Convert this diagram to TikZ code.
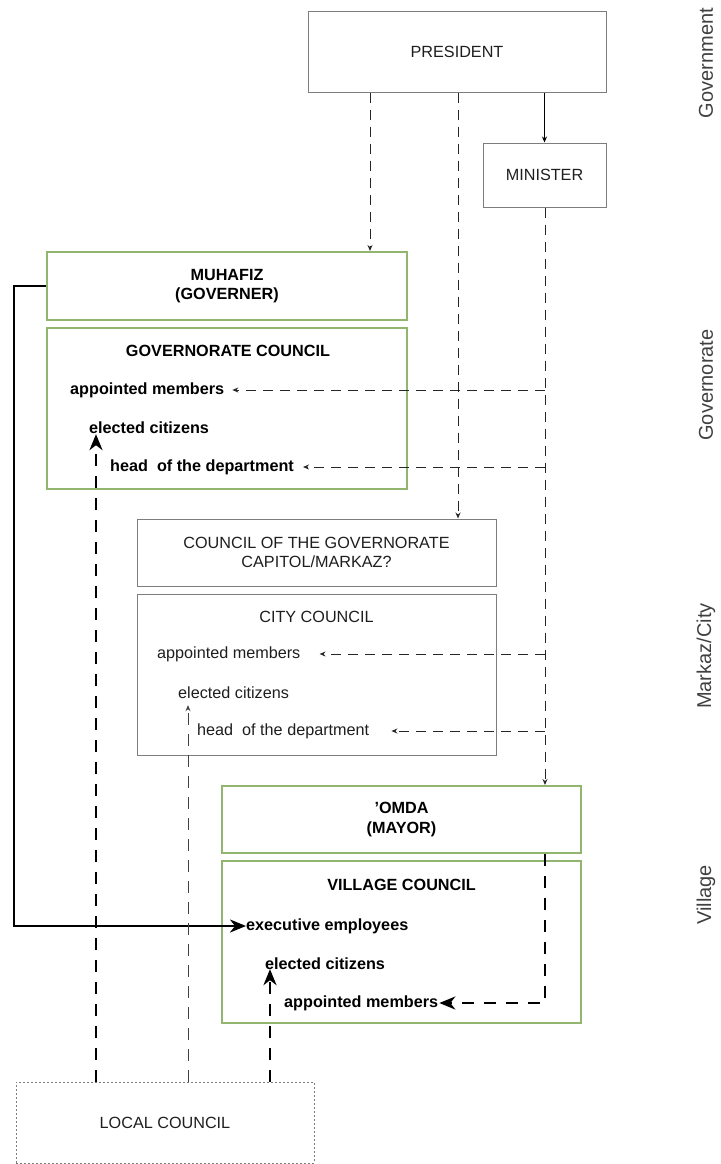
\documentclass[tikz,border=0pt]{standalone}
\usepackage{fontspec}
\setmainfont{Liberation Sans}
\usetikzlibrary{arrows.meta}
\definecolor{vgreen}{RGB}{146,182,112}
\definecolor{boxgray}{RGB}{125,125,125}
\definecolor{txt}{RGB}{30,30,30}
\begin{document}
\begin{tikzpicture}[x=1pt,y=-1pt,
  every node/.style={font=\fontsize{16.2}{19.5}\selectfont, text=txt, inner sep=0pt},
  graybox/.style={draw=boxgray, line width=1pt, align=center},
  greenbox/.style={draw=vgreen, line width=2pt, align=center, font=\fontsize{16.2}{19.5}\selectfont\bfseries, text=black},
  lbl/.style={anchor=west},
  blbl/.style={anchor=west, font=\fontsize{16.2}{19.5}\selectfont\bfseries, text=black},
  side/.style={rotate=90, font=\fontsize{20}{24}\selectfont, text=black!75},
  thindash/.style={line width=1pt, dash pattern=on 10pt off 7pt, draw=black!85},
  thickdash/.style={line width=2.5pt, dash pattern=on 12pt off 10pt},
  smalltip/.style={-{Stealth[length=6pt,width=5pt]}},
  bigtip/.style={-{Stealth[length=16pt,width=13pt,inset=5pt]}}
]
\useasboundingbox (0,0) rectangle (720,1164);

% boxes
\node[graybox, minimum width=298pt, minimum height=80pt] (pres) at (457,52) {PRESIDENT};
\node[graybox, minimum width=123pt, minimum height=64pt] (min) at (544.5,175) {MINISTER};
\node[greenbox, minimum width=360pt, minimum height=68pt] (muh) at (227,286) {MUHAFIZ\\(GOVERNER)};
\node[greenbox, minimum width=360pt, minimum height=161pt] (gc) at (227,408.5) {};
\node[blbl, anchor=center] (gct) at (228,351) {GOVERNORATE COUNCIL};
\node[graybox, minimum width=359pt, minimum height=67pt] (cg) at (316.5,552.5) {COUNCIL OF THE GOVERNORATE\\CAPITOL/MARKAZ?};
\node[graybox, minimum width=359pt, minimum height=161pt] (cc) at (316.5,674.5) {};
\node (cct) at (316.5,617) {CITY COUNCIL};
\node[greenbox, minimum width=359pt, minimum height=67pt] (omda) at (401.5,819.5) {{\textquoteright}OMDA\\(MAYOR)};
\node[greenbox, minimum width=359pt, minimum height=162pt] (vc) at (401.5,942) {};
\node[blbl, anchor=center] (vct) at (401.5,885) {VILLAGE COUNCIL};
\node[draw=boxgray, line width=1pt, dash pattern=on 2pt off 2pt, minimum width=298pt, minimum height=81pt] (local) at (165,1122.5) {LOCAL COUNCIL};

% texts inside councils
\node[blbl] (gam) at (70,390) {appointed members};
\node[blbl] (gel) at (89,428) {elected citizens};
\node[blbl] (ghd) at (110,467) {head\ \ of the department};
\node[lbl] (cam) at (157,654) {appointed members};
\node[lbl] (cel) at (178,693) {elected citizens};
\node[lbl] (chd) at (197,731) {head\ \ of the department};
\node[blbl] (vex) at (246,926) {executive employees};
\node[blbl] (vel) at (265,964) {elected citizens};
\node[blbl] (vam) at (284,1003) {appointed members};

% side labels
\node[side] (sgov) at (706,63) {Government};
\node[side] (sgvr) at (706,385) {Governorate};
\node[side] (smk) at (706,656) {Markaz/City};
\node[side] (svil) at (706,895) {Village};

% coordinates for connector columns
\coordinate (c1) at (370,0);
\coordinate (c2) at (458,0);
\coordinate (c3) at (545,0);
\coordinate (e1) at (96,0);
\coordinate (e2) at (188,0);
\coordinate (e3) at (270,0);
\coordinate (lx) at (14,0);

% connectors from the top
\draw[line width=1pt, smalltip] (pres.south -| min.north) -- (min.north);
\draw[thindash, smalltip] (pres.south -| c1) -- (muh.north -| c1);
\draw[thindash, smalltip] (pres.south -| c2) -- (cg.north -| c2);
\draw[thindash, smalltip] (min.south -| c3) -- (omda.north -| c3);

% horizontal appointments
\draw[thindash, smalltip] (gam.east -| c3) -- ([xshift=8pt]gam.east);
\draw[thindash, smalltip] (ghd.east -| c3) -- ([xshift=9pt]ghd.east);
\draw[thindash, smalltip] (cam.east -| c3) -- ([xshift=19pt]cam.east);
\draw[thindash, smalltip] (chd.east -| c3) -- ([xshift=22pt]chd.east);

% mayor to village appointed members
\draw[thickdash, bigtip] (omda.south -| c3) -- (vam.east -| c3) -- ([xshift=1pt]vam.east);

% governor to executive employees
\draw[line width=2.5pt, bigtip] (muh.west) -- (muh.west -| lx) |- (vex.west);

% local council to elected citizens
\draw[thickdash, bigtip] (local.north -| e1) -- (gel.south -| e1);
\draw[line width=1pt, dash pattern=on 12pt off 9pt, draw=black!75, smalltip] (local.north -| e2) -- ([yshift=-6pt]cel.south -| e2);
\draw[thickdash, bigtip] (local.north -| e3) -- ([yshift=1pt]vel.south -| e3);
\end{tikzpicture}
\end{document}
